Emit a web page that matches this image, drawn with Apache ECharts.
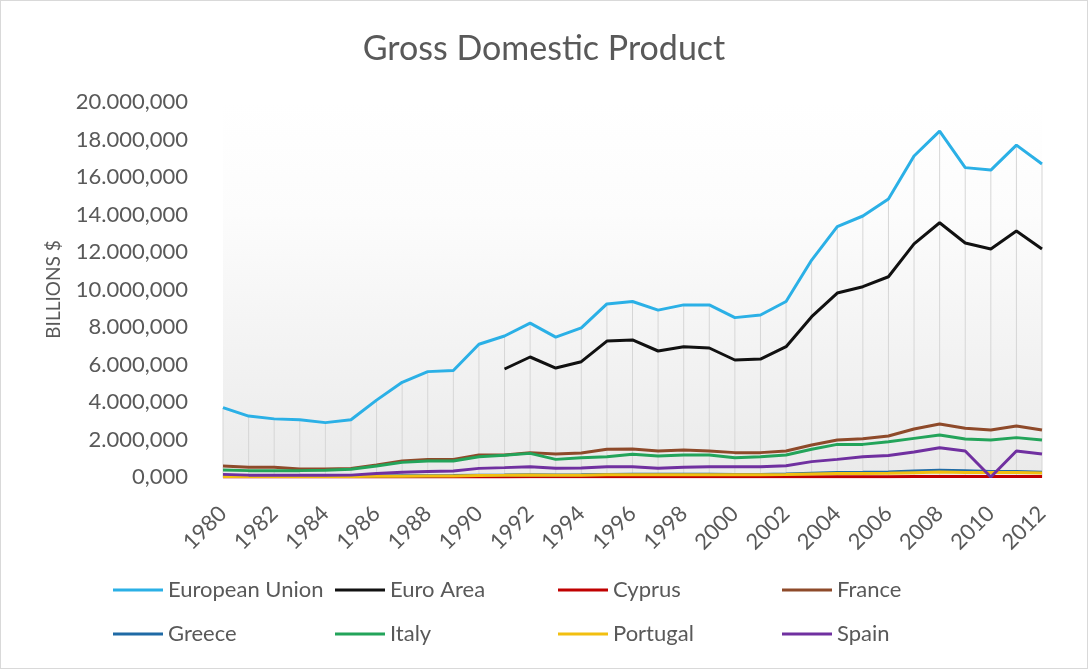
<!DOCTYPE html>
<html>
<head>
<meta charset="utf-8">
<title>Gross Domestic Product</title>
<script src="https://cdn.jsdelivr.net/npm/echarts@6/dist/echarts.min.js"></script>
<style>
  html, body { margin: 0; padding: 0; background: #ffffff; }
  #chart { width: 1088px; height: 669px; box-sizing: border-box; border: 1px solid #d9d9d9; }
</style>
</head>
<body>
<div id="chart"></div>
<script>
// Years on the category axis
const years = ['1980','1981','1982','1983','1984','1985','1986','1987','1988','1989',
  '1990','1991','1992','1993','1994','1995','1996','1997','1998','1999',
  '2000','2001','2002','2003','2004','2005','2006','2007','2008','2009',
  '2010','2011','2012'];

// GDP, billions of US dollars
const europeanUnion = [3700, 3250, 3100, 3050, 2900, 3050, 4100, 5050, 5620, 5680,
  7080, 7520, 8210, 7460, 7950, 9230, 9360, 8900, 9180, 9180,
  8500, 8640, 9360, 11570, 13350, 13920, 14830, 17120, 18450, 16500,
  16370, 17700, 16690];
const euroArea = [null, null, null, null, null, null, null, null, null, null,
  null, 5760, 6400, 5810, 6150, 7250, 7310, 6720, 6950, 6880,
  6240, 6290, 6950, 8550, 9810, 10150, 10680, 12430, 13560, 12480,
  12160, 13120, 12160];
const cyprus = [2.2, 2.3, 2.3, 2.4, 2.5, 2.7, 3.4, 4.0, 4.6, 5.0,
  5.9, 6.0, 7.2, 6.9, 7.7, 9.6, 9.7, 9.1, 9.7, 9.9,
  9.3, 9.7, 10.5, 13.3, 15.8, 16.9, 18.4, 21.8, 25.3, 23.5,
  23.1, 24.9, 22.8];
const france = [590, 520, 520, 430, 430, 460, 640, 850, 940, 940,
  1170, 1170, 1300, 1230, 1280, 1480, 1490, 1390, 1440, 1390,
  1300, 1300, 1390, 1710, 1970, 2040, 2190, 2560, 2830, 2600,
  2510, 2720, 2510];
const greece = [56, 52, 55, 49, 48, 48, 53, 62, 72, 76,
  97, 103, 115, 108, 116, 137, 145, 143, 144, 142,
  130, 137, 155, 199, 240, 248, 273, 318, 355, 330,
  299, 288, 249];
const italy = [370, 340, 340, 340, 355, 410, 590, 780, 850, 850,
  1080, 1160, 1260, 940, 1030, 1080, 1210, 1120, 1170, 1170,
  1030, 1080, 1170, 1480, 1740, 1740, 1880, 2060, 2240, 2030,
  1970, 2100, 1970];
const portugal = [33, 32, 30, 26, 24, 26, 37, 45, 53, 58,
  78, 88, 107, 94, 97, 117, 122, 116, 122, 125,
  118, 121, 133, 162, 185, 192, 201, 232, 262, 243,
  238, 244, 216];
const spain = [140, 100, 95, 90, 90, 100, 190, 250, 290, 320,
  460, 500, 550, 470, 480, 550, 550, 470, 520, 550,
  550, 550, 600, 820, 940, 1080, 1150, 1330, 1560, 1390,
  0, 1390, 1230];

const seriesDefs = [
  { name: 'European Union', data: europeanUnion, color: '#2bb0e6' },
  { name: 'Euro Area',      data: euroArea,      color: '#111111' },
  { name: 'Cyprus',         data: cyprus,        color: '#c00000' },
  { name: 'France',         data: france,        color: '#8e4a2a' },
  { name: 'Greece',         data: greece,        color: '#1f6aa5' },
  { name: 'Italy',          data: italy,         color: '#23a45a' },
  { name: 'Portugal',       data: portugal,      color: '#f2bf10' },
  { name: 'Spain',          data: spain,         color: '#7030a0' }
];

const FONT = 'Lato, "Open Sans", sans-serif';
const GREY_TEXT = '#595959';

// "20.000,000" style: dot for thousands, comma for decimals
function formatValue(v) {
  const whole = Math.round(v).toString().replace(/\B(?=(\d{3})+(?!\d))/g, '.');
  return whole + ',000';
}

const chart = echarts.init(document.getElementById('chart'));

// Legend laid out as four columns of two entries each
const legendColumnsLeft = [107, 329, 552, 776];
const legends = legendColumnsLeft.map((left, col) => ({
  data: [seriesDefs[col].name, seriesDefs[col + 4].name],
  left: left,
  top: 573,
  orient: 'vertical',
  icon: 'rect',
  itemWidth: 50,
  itemHeight: 3,
  itemGap: 22,
  textStyle: { color: GREY_TEXT, fontFamily: FONT, fontSize: 22 }
}));

const option = {
  backgroundColor: '#ffffff',
  animation: false,
  title: {
    text: 'Gross Domestic Product',
    left: 'center',
    top: 26,
    textStyle: { color: GREY_TEXT, fontFamily: FONT, fontSize: 34, fontWeight: 'normal' }
  },
  legend: legends,
  grid: {
    left: 222, right: 45, top: 101, bottom: 191,
    show: true,
    borderWidth: 0,
    backgroundColor: new echarts.graphic.LinearGradient(0, 0, 0, 1, [
      { offset: 0, color: '#ffffff' },
      { offset: 0.3, color: '#fcfcfc' },
      { offset: 1, color: '#eaeaea' }
    ])
  },
  xAxis: {
    type: 'category',
    data: years,
    boundaryGap: false,
    axisLine: { show: true, lineStyle: { color: '#d9d9d9', width: 1 } },
    axisTick: { show: false },
    axisLabel: {
      interval: 1, rotate: 45, margin: 33,
      color: GREY_TEXT, fontFamily: FONT, fontSize: 22
    },
    splitLine: { show: false }
  },
  yAxis: {
    type: 'value',
    min: 0, max: 20000, interval: 2000,
    name: 'BILLIONS $',
    nameLocation: 'middle',
    nameGap: 160,
    nameRotate: 90,
    nameTextStyle: { color: GREY_TEXT, fontFamily: FONT, fontSize: 19 },
    axisLine: { show: false },
    axisTick: { show: false },
    splitLine: { show: false },
    axisLabel: {
      margin: 35, color: GREY_TEXT, fontFamily: FONT, fontSize: 22,
      formatter: formatValue
    }
  },
  series: [
    // drop lines from the top series down to the baseline
    {
      name: 'drop',
      type: 'bar',
      data: europeanUnion,
      barWidth: 1,
      silent: true,
      z: 1,
      itemStyle: { color: '#d6d6d6' }
    }
  ].concat(seriesDefs.map(s => ({
    name: s.name,
    type: 'line',
    data: s.data,
    symbol: 'none',
    connectNulls: false,
    z: 3,
    lineStyle: { color: s.color, width: 3 },
    itemStyle: { color: s.color }
  })))
};

chart.setOption(option);
</script>
</body>
</html>
